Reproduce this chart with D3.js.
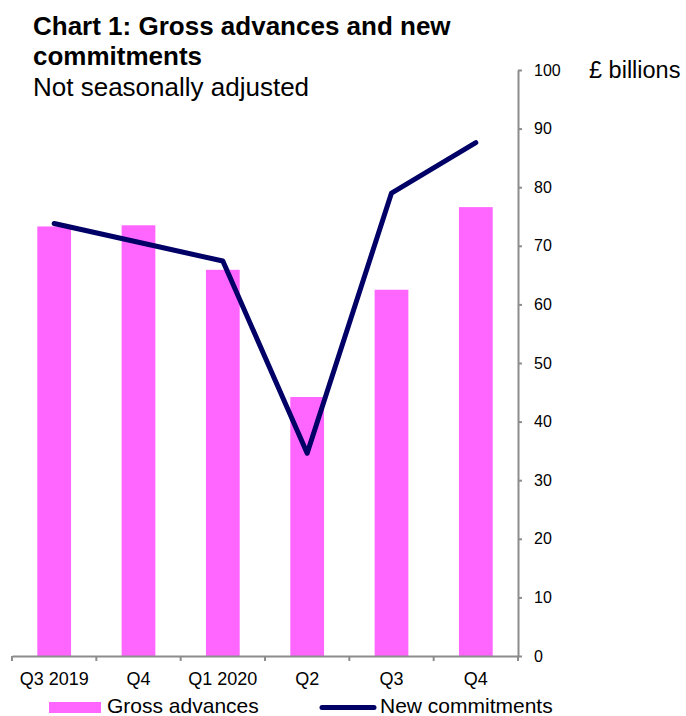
<!DOCTYPE html>
<html>
<head>
<meta charset="utf-8">
<script src="https://cdn.jsdelivr.net/npm/d3@7"></script>
<style>
  html, body { margin: 0; padding: 0; background: #fff; }
  svg { display: block; font-family: "Liberation Sans", Arial, sans-serif; }
</style>
</head>
<body>
<svg id="chart" width="686" height="716"></svg>
<script>
// Quarterly data, £ billions, not seasonally adjusted
const quarters = ["Q3 2019", "Q4", "Q1 2020", "Q2", "Q3", "Q4"];
const grossAdvances = [73.3, 73.5, 65.9, 44.2, 62.5, 76.6];
const newCommitments = [73.8, 70.6, 67.4, 34.6, 79.0, 87.6];
const yTicks = [0, 10, 20, 30, 40, 50, 60, 70, 80, 90, 100];

const svg = d3.select("#chart");

const plot = { left: 12, right: 518, top: 70, bottom: 656 };

const x = d3.scaleBand()
  .domain(d3.range(quarters.length))
  .range([plot.left, plot.right])
  .padding(0);

const y = d3.scaleLinear()
  .domain([0, 100])
  .range([plot.bottom, plot.top]);

const axisGrey = "#8c8c8c";
const barColour = "#ff66ff";
const lineColour = "#000066";

// Titles
svg.append("text")
  .attr("x", 33).attr("y", 35)
  .attr("font-size", 26).attr("font-weight", "bold")
  .text("Chart 1: Gross advances and new");
svg.append("text")
  .attr("x", 33).attr("y", 65)
  .attr("font-size", 26).attr("font-weight", "bold")
  .text("commitments");
svg.append("text")
  .attr("x", 33).attr("y", 96)
  .attr("font-size", 26)
  .text("Not seasonally adjusted");

// Bars
const barW = x.bandwidth() * 0.4;
svg.append("g")
  .selectAll("rect")
  .data(grossAdvances)
  .join("rect")
  .attr("x", (d, i) => x(i) + (x.bandwidth() - barW) / 2)
  .attr("y", d => y(d))
  .attr("width", barW)
  .attr("height", d => y(0) - y(d))
  .attr("fill", barColour);

// Line
const line = d3.line()
  .x((d, i) => x(i) + x.bandwidth() / 2)
  .y(d => y(d));
svg.append("path")
  .datum(newCommitments)
  .attr("d", line)
  .attr("fill", "none")
  .attr("stroke", lineColour)
  .attr("stroke-width", 5)
  .attr("stroke-linejoin", "round")
  .attr("stroke-linecap", "round");

// Right-hand value axis
const yAxis = svg.append("g")
  .attr("transform", `translate(${plot.right},0)`)
  .call(d3.axisRight(y).tickValues(yTicks).tickSize(4).tickPadding(12).tickSizeOuter(0));
yAxis.select(".domain").attr("stroke", axisGrey).attr("stroke-width", 2);
yAxis.selectAll(".tick line").attr("stroke", axisGrey).attr("stroke-width", 2);
yAxis.selectAll(".tick text")
  .attr("font-size", 16).attr("fill", "#000")
  .attr("font-family", "Liberation Sans, Arial, sans-serif");

svg.append("text")
  .attr("x", 589).attr("y", 78)
  .attr("font-size", 23.5)
  .text("£ billions");

// Category axis
const xAxis = svg.append("g")
  .attr("transform", `translate(0,${plot.bottom})`)
  .call(d3.axisBottom(x).tickValues([]).tickSizeOuter(0));
xAxis.select(".domain").attr("stroke", axisGrey).attr("stroke-width", 2);

// Tick marks on band boundaries
const bounds = d3.range(quarters.length + 1).map(i =>
  i < quarters.length ? x(i) : x(quarters.length - 1) + x.bandwidth());
xAxis.selectAll("line.bound")
  .data(bounds)
  .join("line")
  .attr("class", "bound")
  .attr("x1", d => d).attr("x2", d => d)
  .attr("y1", 0).attr("y2", 5)
  .attr("stroke", axisGrey).attr("stroke-width", 2);

xAxis.selectAll("text.cat")
  .data(quarters)
  .join("text")
  .attr("class", "cat")
  .attr("x", (d, i) => x(i) + x.bandwidth() / 2)
  .attr("y", 29)
  .attr("text-anchor", "middle")
  .attr("font-size", 18)
  .attr("fill", "#000")
  .text(d => d);

// Legend
const legend = svg.append("g");
legend.append("rect")
  .attr("x", 49).attr("y", 702).attr("width", 52).attr("height", 11)
  .attr("fill", barColour);
legend.append("text")
  .attr("x", 107).attr("y", 713)
  .attr("font-size", 21)
  .text("Gross advances");
legend.append("line")
  .attr("x1", 322).attr("x2", 374).attr("y1", 707.5).attr("y2", 707.5)
  .attr("stroke", lineColour).attr("stroke-width", 5)
  .attr("stroke-linecap", "round");
legend.append("text")
  .attr("x", 380).attr("y", 713)
  .attr("font-size", 21)
  .text("New commitments");
</script>
</body>
</html>
